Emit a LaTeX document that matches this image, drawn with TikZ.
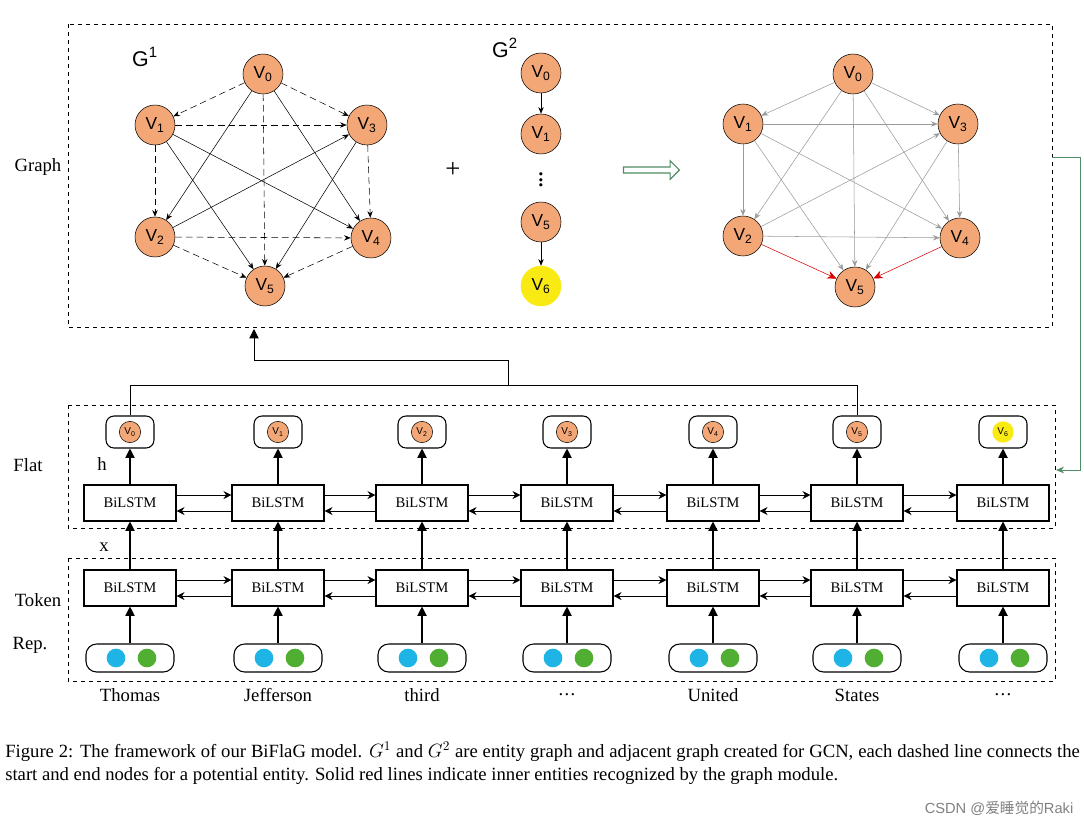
\documentclass[tikz,border=0pt]{standalone}
\usepackage{fontspec}
\setmainfont{Liberation Serif}
\newfontfamily\arial{Liberation Sans}
\newfontfamily\cjk{Noto Sans CJK SC}
\usetikzlibrary{arrows.meta,shapes.arrows}
\definecolor{vfill}{RGB}{244,167,118}
\definecolor{vyel}{RGB}{250,234,20}
\definecolor{gblue}{RGB}{30,180,230}
\definecolor{ggreen}{RGB}{80,175,50}
\definecolor{dgreen}{RGB}{80,140,100}
\newcommand{\mydots}{.\kern1pt.\kern1pt.}
\begin{document}
\begin{tikzpicture}[x=0.75pt,y=-0.75pt,
  v/.style={circle,draw,fill=vfill,minimum size=30pt,inner sep=0pt,font=\arial\fontsize{13}{13}\selectfont},
  sv/.style={circle,draw,fill=vfill,minimum size=16pt,inner sep=0pt,font=\arial\fontsize{7.5}{7.5}\selectfont},
  dbox/.style={draw,dashed,thin},
  bl/.style={draw,thick,minimum width=69pt,minimum height=27pt,inner sep=0pt,font=\fontsize{11}{11}\selectfont},
  vb/.style={draw,thick,rounded corners=6pt,minimum width=36pt,minimum height=24pt},
  wb/.style={draw,thick,rounded corners=8pt,minimum width=66pt,minimum height=21pt},
  ea/.style={-{Stealth[length=5pt,width=4pt]},thin},
  dsh/.style={ea,dash pattern=on 5pt off 3pt},
  ga/.style={-{Stealth[length=5pt,width=4pt]},gray!80,thin},
  ba/.style={-{Triangle[length=7pt,width=7pt]},thick},
  sa/.style={-{Stealth[length=6pt,width=6pt]},semithick},
  lab/.style={font=\fontsize{14}{14}\selectfont}
]
\useasboundingbox (0,0) rectangle (1084,828);
% boxes
\draw[dbox] (68,24) rectangle (1052,327);
\draw[dbox] (68,405) rectangle (1055,528);
\draw[dbox] (68,558) rectangle (1055,681);
\node[lab] (lg) at (38,167) {Graph};
\node[lab] (lf) at (28,465) {Flat};
\node[lab] (lh) at (102,464) {h};
\node[lab] (lx) at (104,547) {x};
\node[lab] (lt) at (38,600) {Token};
\node[lab] (lr) at (30,645) {Rep.};
% G1
\node[font=\arial\fontsize{16}{16}\selectfont] (g1) at (145,57) {G\textsuperscript{1}};
\node[v] (a0) at (263,74) {V\textsubscript{0}};
\node[v] (a1) at (155,125) {V\textsubscript{1}};
\node[v] (a3) at (367,125) {V\textsubscript{3}};
\node[v] (a2) at (155,237) {V\textsubscript{2}};
\node[v] (a4) at (371,238) {V\textsubscript{4}};
\node[v] (a5) at (265,286) {V\textsubscript{5}};
\foreach \s/\t in {a0/a1,a0/a3,a1/a3,a1/a2,a3/a4,a2/a4,a2/a5,a4/a5,a0/a5}
  \draw[dsh] (\s) -- (\t);
\foreach \s/\t in {a0/a2,a0/a4,a1/a5,a1/a4,a2/a3,a3/a5}
  \draw[ea] (\s) -- (\t);
% G2
\node[font=\arial\fontsize{16}{16}\selectfont] (g2) at (505,48) {G\textsuperscript{2}};
\node[v] (b0) at (541,73) {V\textsubscript{0}};
\node[v] (b1) at (541,134) {V\textsubscript{1}};
\node[font=\fontsize{20}{20}\selectfont] (bd) at (541,176) {$\vdots$};
\node[v] (b5) at (541,222) {V\textsubscript{5}};
\node[v,fill=vyel,draw=vyel] (b6) at (541,286) {V\textsubscript{6}};
\draw[ea] (b0) -- (b1);
\draw[ea] (b5) -- (b6);
\node[font=\fontsize{20}{20}\selectfont] (plus) at (453,170) {+};
\node[single arrow,draw=dgreen,thick,minimum height=42pt,minimum width=14pt,single arrow head extend=3pt,inner sep=1pt] (big) at (650,170) {};
% right graph
\node[v] (c0) at (853,74) {V\textsubscript{0}};
\node[v] (c1) at (743,124) {V\textsubscript{1}};
\node[v] (c3) at (958,124) {V\textsubscript{3}};
\node[v] (c2) at (743,236) {V\textsubscript{2}};
\node[v] (c4) at (960,238) {V\textsubscript{4}};
\node[v] (c5) at (855,287) {V\textsubscript{5}};
\foreach \s/\t in {c0/c1,c0/c3,c1/c3,c1/c2,c3/c4,c2/c4,c0/c5,c0/c2,c0/c4,c1/c5,c1/c4,c2/c3,c3/c5}
  \draw[ga] (\s) -- (\t);
\draw[-{Stealth[length=7pt,width=6pt]},red!85!black] (c2) -- (c5);
\draw[-{Stealth[length=7pt,width=6pt]},red!85!black] (c4) -- (c5);
% green feedback connector
\coordinate (gr1) at (1052,157);
\coordinate (gr2) at (1056,470);
\draw[-{Stealth[length=6pt,width=5pt]},dgreen,semithick] (gr1) -- (1080,157) -- (1080,470) -- (gr2);
% columns
\foreach \i/\x/\w in {0/130/Thomas,1/278/Jefferson,2/422/third,3/567/\mydots,4/713/United,5/857/States,6/1003/\mydots}{
  \node[bl] (f\i) at (\x,503) {BiLSTM};
  \node[bl] (t\i) at (\x,588) {BiLSTM};
  \node[vb] (vb\i) at (\x,432) {};
  \node[wb] (w\i) at (\x,658) {};
  \node[circle,fill=gblue,minimum size=14pt,inner sep=0pt] (wb\i) at (\x-14,658) {};
  \node[circle,fill=ggreen,minimum size=14pt,inner sep=0pt] (wg\i) at (\x+17,658) {};
  \node[font=\fontsize{14}{14}\selectfont] (word\i) at (\x,695) {\w};
  \draw[ba] (f\i) -- (vb\i);
  \draw[ba] (t\i) -- (f\i);
  \draw[ba] (w\i) -- (t\i);
}
\foreach \i in {0,1,2,3,4,5}
  \node[sv] (sv\i) at (vb\i) {V\textsubscript{\i}};
\node[circle,fill=vyel,minimum size=16pt,inner sep=0pt,font=\arial\fontsize{7.5}{7.5}\selectfont] (sv6) at (vb6) {V\textsubscript{6}};
\foreach \a/\b in {0/1,1/2,2/3,3/4,4/5,5/6}{
  \draw[sa] ([yshift=-6pt]f\b.west) -- ([yshift=-6pt]f\a.east);
  \draw[sa] ([yshift=6pt]f\a.east) -- ([yshift=6pt]f\b.west);
  \draw[sa] ([yshift=-6pt]t\b.west) -- ([yshift=-6pt]t\a.east);
  \draw[sa] ([yshift=6pt]t\a.east) -- ([yshift=6pt]t\b.west);
}
% top connector
\coordinate (j1) at (508,385);
\coordinate (tgt) at (254,329);
\draw[semithick] (vb0.north) -- (130,385) -- (857,385) -- (vb5.north);
\draw[semithick,-{Triangle[length=7pt,width=7pt]}] (j1) -- (508,360) -- (254,360) -- (tgt);
% caption
\node[anchor=north west,text width=806pt,align=justify,inner sep=0pt,font=\fontsize{14}{17}\selectfont] (cap) at (5,742)
{Figure 2: The framework of our BiFlaG model. $G^1$ and $G^2$ are entity graph and adjacent graph created for GCN, each dashed line connects the start and end nodes for a potential entity. Solid red lines indicate inner entities recognized by the graph module.};
\node[anchor=east,text=gray,font=\arial\fontsize{11}{11}\selectfont] (wm) at (1078,808) {CSDN @{\cjk 爱睡觉的}Raki};
\end{tikzpicture}
\end{document}
